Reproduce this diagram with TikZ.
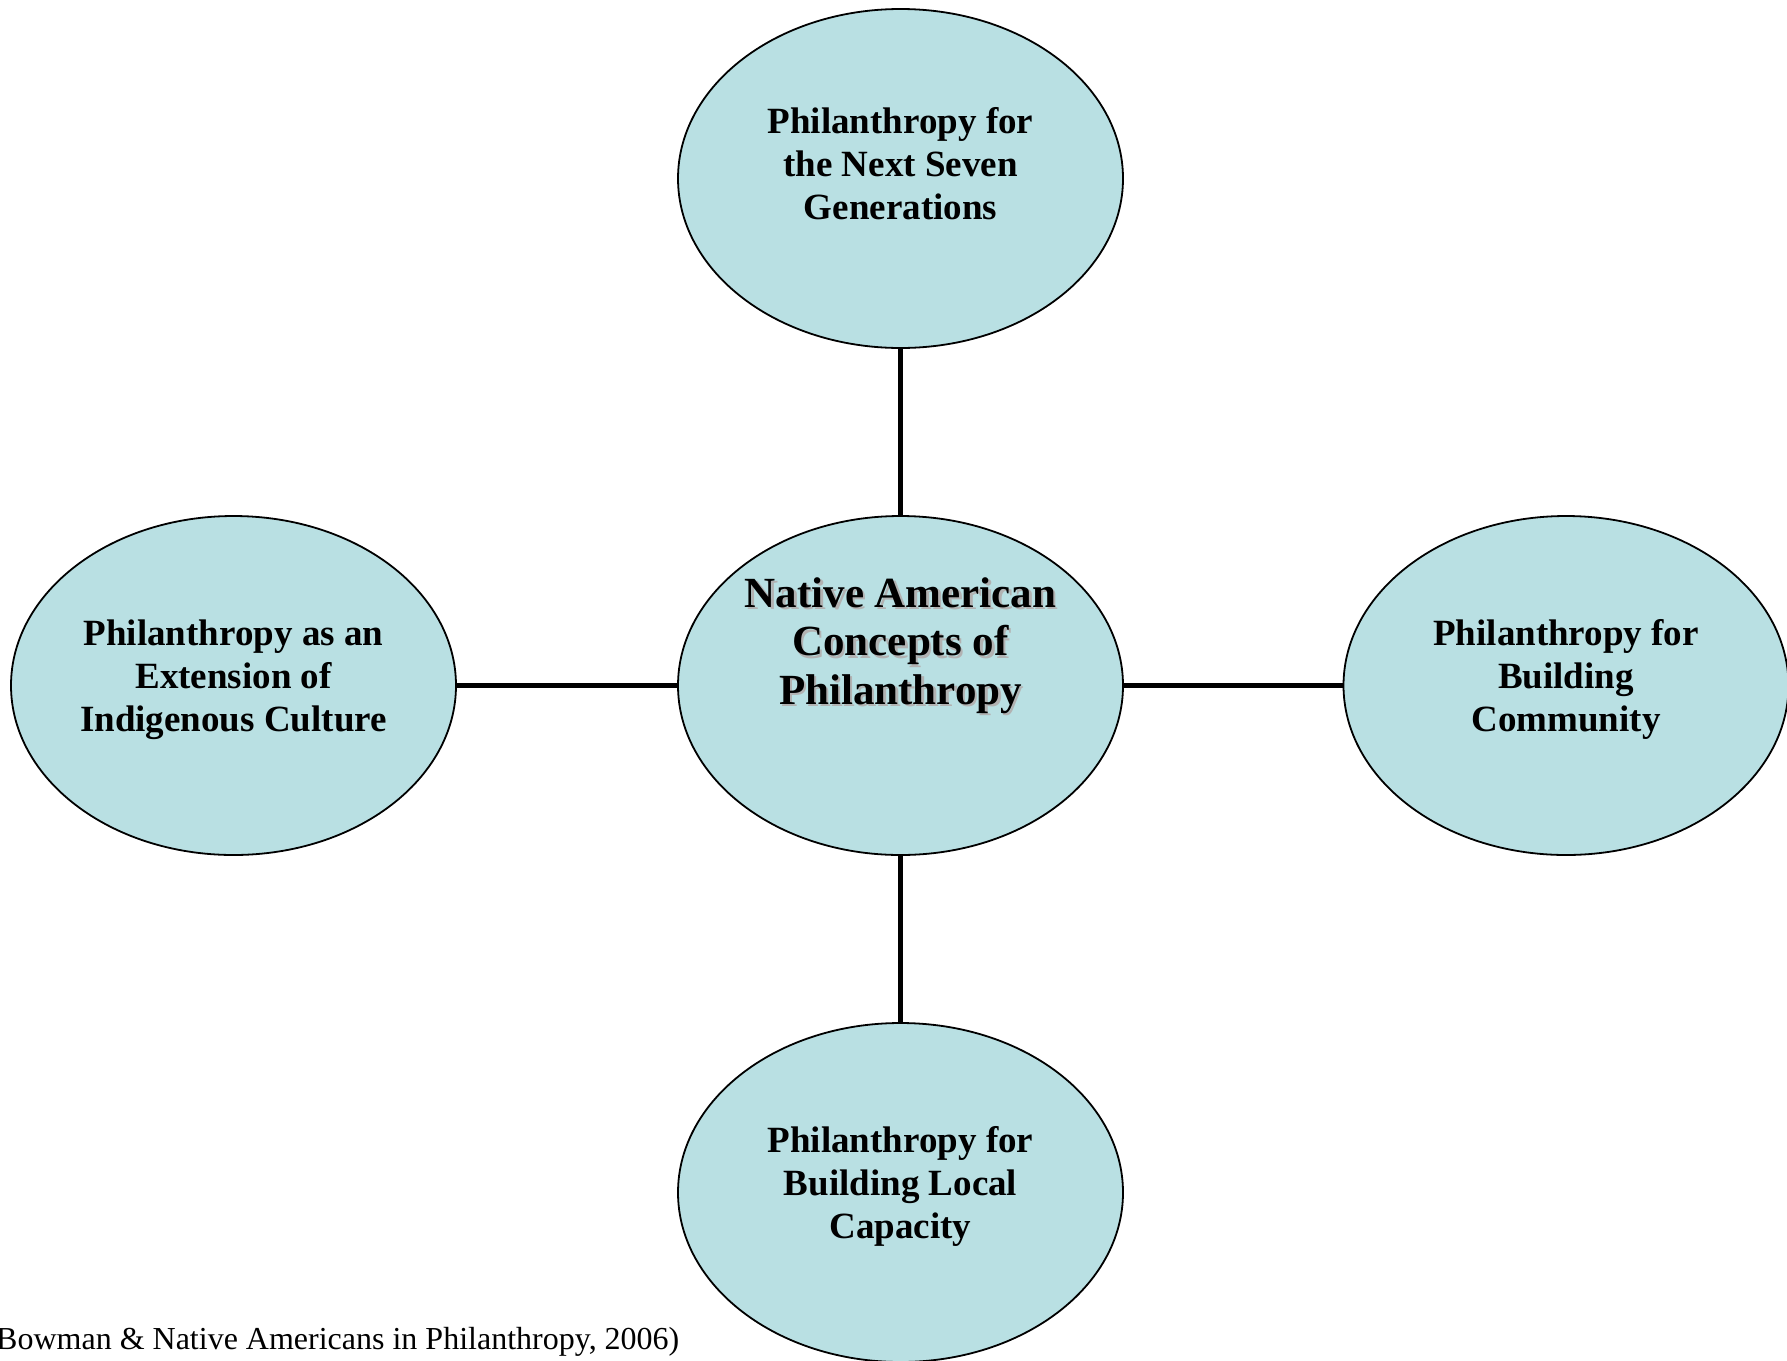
\documentclass[tikz,border=0pt]{standalone}
\usepackage{fontspec}
\setmainfont{Liberation Serif}
\usetikzlibrary{shapes.geometric}
\definecolor{bubblefill}{RGB}{185,224,227}
\newcommand\stacklines[1]{\begin{tabular}[t]{@{}c@{}}#1\end{tabular}}
\begin{document}
\begin{tikzpicture}[x=1pt,y=-1pt,
  bubble/.style={ellipse, draw=black, line width=1.8pt, fill=bubblefill,
    minimum width=445pt, minimum height=339pt, inner sep=0pt},
  link/.style={draw=black, line width=5pt},
  lbl/.style={anchor=base, inner sep=0pt,
    font=\fontsize{37}{43}\selectfont\bfseries},
  hub/.style={anchor=base, inner sep=0pt,
    font=\fontsize{43}{48.5}\selectfont\bfseries},
  note/.style={anchor=base west, inner sep=0pt,
    font=\fontsize{32}{37}\selectfont}]
\useasboundingbox (0,0) rectangle (1787,1360);

% ellipses
\node[bubble] (hubE)   at (900.5,685.5)  {};
\node[bubble] (topE)   at (900.5,178.5)  {};
\node[bubble] (leftE)  at (233.5,685.5)  {};
\node[bubble] (rightE) at (1566,685.5)   {};
\node[bubble] (botE)   at (900.5,1192.5) {};

% connectors
\draw[link] (hubE.north) -- (topE.south);
\draw[link] (hubE.south) -- (botE.north);
\draw[link] (hubE.west)  -- (leftE.east);
\draw[link] (hubE.east)  -- (rightE.west);

% central title with drop shadow
\node[hub, text=black!30] (hubShadow) at (903,609.5)
  {\stacklines{Native American\\Concepts of\\Philanthropy}};
\node[hub] (hubT) at (900.5,607)
  {\stacklines{Native American\\Concepts of\\Philanthropy}};

% outer labels
\node[lbl] (topT) at (900.5,133)
  {\stacklines{Philanthropy for\\the Next Seven\\Generations}};
\node[lbl] (leftT) at (233.5,645.5)
  {\stacklines{Philanthropy as an\\Extension of\\Indigenous Culture}};
\node[lbl] (rightT) at (1566,645.5)
  {\stacklines{Philanthropy for\\Building\\Community}};
\node[lbl] (botT) at (900.5,1152.5)
  {\stacklines{Philanthropy for\\Building Local\\Capacity}};

% source line
\node[note] (src) at (-4,1349)
  {Bowman \& Native Americans in Philanthropy, 2006)};
\end{tikzpicture}
\end{document}
